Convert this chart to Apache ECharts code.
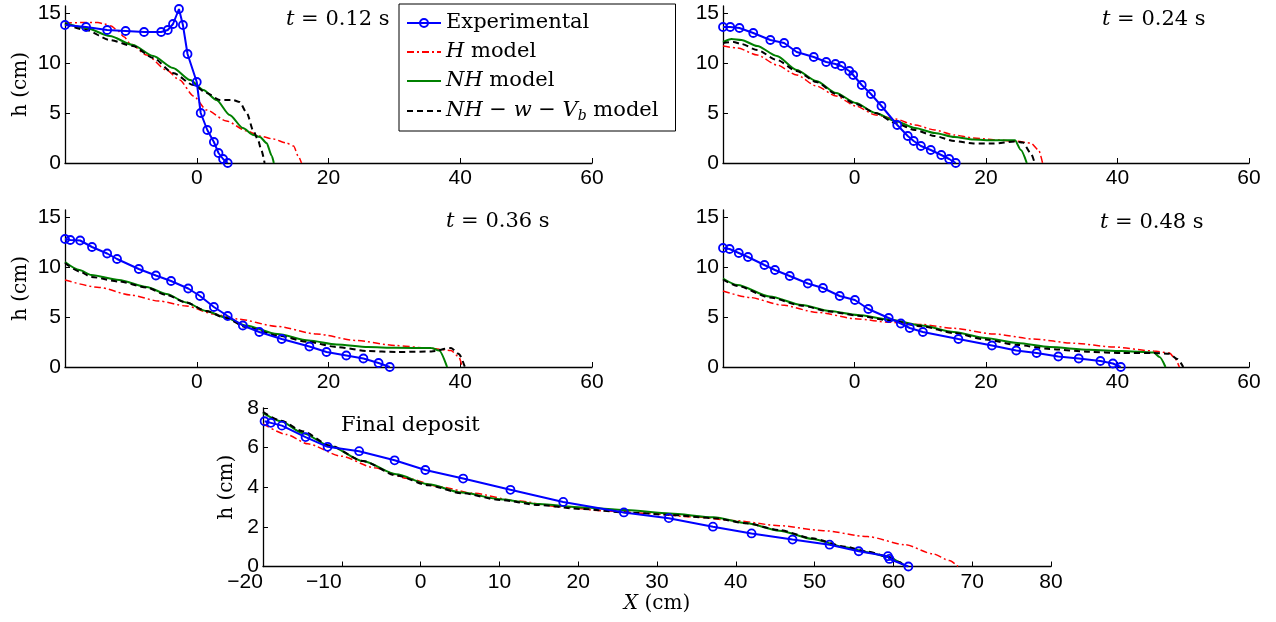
<!DOCTYPE html>
<html><head><meta charset="utf-8">
<script src="https://cdn.jsdelivr.net/npm/echarts@6/dist/echarts.min.js"></script>
<style>html,body{margin:0;padding:0;background:#fff}#c{width:1276px;height:622px}</style>
</head><body><div id="c"></div>
<script>
// ---------- DATA: [X (cm), h (cm)] ----------
// t = 0.12 s
const exp012 = [[-20,13.8],[-16.8,13.6],[-13.6,13.3],[-10.8,13.2],[-8.0,13.1],[-5.4,13.1],[-4.4,13.3],[-3.6,13.9],[-2.7,15.4],[-2.1,13.8],[-1.4,10.9],[0.0,8.1],[0.6,5.0],[1.6,3.3],[2.6,2.1],[3.3,1.0],[4.0,0.4],[4.7,0]];
const H012 = [[-20,14.0],[-17,14.05],[-15,14.05],[-14,13.9],[-13,13.7],[-12.1,13.3],[-11,12.6],[-10.2,12.0],[-7.6,10.8],[-4.6,9.3],[-2.6,8.3],[-0.5,6.7],[1.5,5.3],[4.5,4.2],[7.6,3.2],[9.6,2.7],[11.6,2.4],[13.6,2.0],[14.7,1.7],[15.4,0.7],[15.9,0]];
const NH012 = [[-20,14.0],[-16.8,13.5],[-13.2,12.7],[-9.7,11.8],[-6.6,10.7],[-3.6,9.5],[-1.0,8.3],[1.0,7.3],[3.0,6.3],[5.0,4.8],[7.0,3.5],[8.6,2.8],[9.6,2.6],[10.6,2.0],[11.4,0.7],[11.7,0]];
const NHw012 = [[-20,13.9],[-16.8,13.3],[-13.2,12.3],[-9.7,11.7],[-6.6,10.5],[-3.6,9.0],[-0.5,7.8],[1.5,7.0],[3.5,6.3],[5.5,6.3],[6.5,6.1],[7.6,5.0],[8.6,3.2],[9.3,2.3],[9.8,1.3],[10.3,0]];
// t = 0.24 s
const exp024 = [[-20,13.6],[-18.9,13.6],[-17.5,13.5],[-15.4,13.0],[-12.8,12.3],[-10.7,12.0],[-8.8,11.1],[-6.2,10.6],[-4.3,10.1],[-2.9,9.9],[-2.0,9.7],[-0.8,9.2],[-0.2,8.8],[1.1,7.8],[2.5,6.9],[4.1,5.7],[6.5,3.8],[8.1,2.7],[9.0,2.2],[10.1,1.7],[11.6,1.3],[13.2,0.8],[14.4,0.4],[15.4,0]];
const H024 = [[-20,11.7],[-17.8,11.5],[-14.8,10.8],[-11.8,9.8],[-8.8,8.8],[-5.8,7.7],[-2.8,6.7],[0.2,5.7],[3.2,4.8],[6.2,4.4],[9.2,3.8],[12.2,3.3],[15.2,2.8],[18.1,2.5],[21.1,2.33],[24.7,2.17],[26.8,2.0],[28.0,1.3],[28.6,0]];
const NH024 = [[-20,12.1],[-18.7,12.4],[-17.2,12.3],[-14.8,11.7],[-11.8,10.7],[-8.8,9.3],[-5.8,8.2],[-2.8,7.0],[0.2,6.0],[3.2,5.0],[6.2,4.2],[9.2,3.5],[12.2,3.0],[15.2,2.6],[18.1,2.35],[21.1,2.27],[24.4,2.27],[25.3,1.3],[26.2,0]];
const NHw024 = [[-20,12.0],[-18.4,12.1],[-17.2,11.9],[-14.8,11.3],[-11.8,10.3],[-8.8,9.2],[-5.8,8.1],[-2.8,6.9],[0.2,5.9],[3.2,5.0],[6.2,4.0],[9.2,3.3],[12.2,2.7],[15.2,2.2],[18.1,1.95],[21.1,1.95],[24.4,2.15],[25.6,2.05],[26.8,1.0],[27.4,0]];
// t = 0.36 s
const exp036 = [[-20,12.8],[-19.2,12.7],[-17.7,12.65],[-15.9,12.0],[-13.6,11.35],[-12.1,10.8],[-8.8,9.8],[-6.2,9.15],[-3.9,8.6],[-1.3,7.85],[0.5,7.1],[2.6,6.0],[4.7,5.1],[7.0,4.15],[9.5,3.5],[12.9,2.8],[17.1,2.05],[19.7,1.5],[22.7,1.15],[25.3,0.85],[27.6,0.4],[29.3,0]];
const H036 = [[-20,8.7],[-14.8,7.95],[-10.0,7.2],[-5.8,6.6],[-1.6,6.1],[2.6,5.3],[6.2,4.8],[12.2,4.05],[18.2,3.3],[24.2,2.65],[30.2,2.15],[35.0,1.9],[38.6,1.65],[39.8,1.0],[40.3,0]];
const NH036 = [[-20,10.5],[-17.8,9.7],[-16.0,9.2],[-11.8,8.7],[-7.6,8.0],[-4.6,7.3],[-1.6,6.45],[1.4,5.6],[4.4,4.95],[7.4,4.15],[12.2,3.3],[17.0,2.65],[21.2,2.25],[26.0,2.0],[30.2,1.92],[35.6,1.9],[36.8,1.65],[38.0,0]];
const NHw036 = [[-20,10.4],[-17.8,9.55],[-16.0,9.0],[-11.8,8.55],[-7.6,7.95],[-4.6,7.2],[-1.6,6.45],[1.4,5.6],[4.4,4.9],[7.4,4.0],[12.2,3.15],[17.0,2.5],[21.2,2.0],[26.0,1.6],[30.2,1.5],[35.6,1.55],[38.6,1.9],[39.8,1.3],[40.7,0]];
// t = 0.48 s
const exp048 = [[-20,11.9],[-19.0,11.8],[-17.6,11.4],[-16.2,11.0],[-13.7,10.2],[-12.1,9.7],[-9.85,9.1],[-7.1,8.35],[-4.8,7.9],[-2.25,7.1],[0.06,6.7],[2.1,5.8],[5.2,4.9],[7.05,4.35],[8.4,3.9],[10.4,3.5],[15.8,2.8],[20.9,2.15],[24.6,1.65],[27.7,1.4],[31.0,1.05],[34.1,0.85],[37.4,0.6],[39.3,0.35],[40.5,0]];
const H048 = [[-20,7.6],[-15.9,6.95],[-11.1,6.2],[-5.6,5.45],[0.5,4.8],[5.3,4.47],[10.2,4.25],[15.1,3.87],[21.2,3.3],[27.2,2.8],[33.3,2.38],[39.4,2.0],[45.5,1.6],[47.9,1.4],[48.8,0.8],[49.4,0]];
const NH048 = [[-20,8.85],[-17.8,8.2],[-12.9,7.05],[-8.0,6.2],[-3.8,5.6],[0.5,5.2],[5.3,4.75],[10.2,4.15],[15.1,3.5],[19.9,2.9],[24.8,2.4],[29.7,2.0],[35.7,1.72],[40.6,1.6],[45.5,1.46],[46.4,1.0],[47.3,0]];
const NHw048 = [[-20,8.75],[-17.8,8.1],[-12.9,6.95],[-8.0,6.13],[-3.8,5.55],[0.5,5.13],[5.3,4.65],[10.2,4.07],[15.1,3.4],[19.9,2.75],[24.8,2.2],[29.7,1.8],[35.7,1.52],[40.6,1.4],[45.5,1.39],[47.9,1.32],[49.1,0.8],[50.0,0]];
// Final deposit
const expFin = [[-19.8,7.33],[-19.0,7.25],[-17.6,7.11],[-14.6,6.53],[-11.8,6.04],[-7.8,5.82],[-3.3,5.36],[0.6,4.87],[5.4,4.44],[11.4,3.87],[18.1,3.26],[25.8,2.73],[31.5,2.44],[37.1,2.01],[42.0,1.67],[47.2,1.36],[51.9,1.1],[55.6,0.77],[59.3,0.52],[59.5,0.38],[61.9,0]];
const HFin = [[-20,7.2],[-17.0,6.66],[-14.3,6.19],[-10.1,5.57],[-5.9,4.99],[-1.7,4.45],[2.4,4.03],[6.6,3.7],[12.2,3.31],[17.7,3.01],[23.3,2.81],[28.9,2.68],[34.4,2.51],[40.0,2.31],[45.5,2.06],[51.1,1.81],[56.7,1.51],[61.5,1.1],[65.0,0.64],[67.1,0.3],[68.2,0]];
const NHFin = [[-20,7.75],[-17.7,7.33],[-15.0,6.74],[-11.5,6.08],[-7.3,5.32],[-3.1,4.65],[1.0,4.15],[5.2,3.73],[10.1,3.4],[15.0,3.15],[20.5,2.98],[26.1,2.85],[31.6,2.68],[37.2,2.48],[41.4,2.18],[45.5,1.81],[49.7,1.39],[53.9,0.97],[56.7,0.72],[59.5,0.47],[60.8,0.22],[61.5,0]];
const NHwFin = [[-20,7.8],[-17.7,7.36],[-15.0,6.83],[-11.5,6.11],[-7.3,5.32],[-3.1,4.6],[1.0,4.1],[5.2,3.7],[10.1,3.36],[15.0,3.1],[20.5,2.9],[26.1,2.73],[31.6,2.61],[37.2,2.44],[41.4,2.18],[45.5,1.84],[49.7,1.42],[53.9,1.0],[56.7,0.75],[59.5,0.47],[60.8,0.22],[61.4,0]];

const panelTitles = ['0.12', '0.24', '0.36', '0.48'];
const seriesNames = ['Experimental', 'H model', 'NH model', 'NH-w-Vb model'];
const xTicksTop = [0, 20, 40, 60];
const yTicksTop = [0, 5, 10, 15];
const panels = [
  [exp012, H012, NH012, NHw012],
  [exp024, H024, NH024, NHw024],
  [exp036, H036, NH036, NHw036],
  [exp048, H048, NH048, NHw048],
  [expFin, HFin, NHFin, NHwFin]
];

// ---------- CHART ----------
const SANS = '"Liberation Sans", Arial, sans-serif';
const SERIF = '"DejaVu Serif", serif';
const chart = echarts.init(document.getElementById('c'), null, {renderer: 'canvas'});

const grids = [
  {left: 65, top: 6, width: 527, height: 157},
  {left: 723, top: 6, width: 526, height: 157},
  {left: 65, top: 210, width: 527, height: 157},
  {left: 723, top: 210, width: 526, height: 157},
  {left: 263, top: 408, width: 788, height: 158.5}
];

function axisBase() {
  return {
    type: 'value',
    splitLine: {show: false},
    axisLine: {onZero: false, lineStyle: {color: '#000', width: 1.3}},
    axisTick: {inside: true, length: 5, lineStyle: {color: '#000', width: 1}}
  };
}
const labelCommon = {color: '#000', fontFamily: SANS, fontSize: 21};
const nameStyle = {color: '#000', fontFamily: SERIF, fontSize: 20,
  rich: {i: {fontStyle: 'italic', fontFamily: SERIF, fontSize: 20, color: '#000'}}};

const xAxes = [], yAxes = [];
for (let i = 0; i < 4; i++) {
  const x = axisBase();
  Object.assign(x, {gridIndex: i, min: -20, max: 60, interval: 20,
    axisLabel: Object.assign({}, labelCommon, {margin: 5, customValues: xTicksTop})});
  x.axisTick.customValues = xTicksTop;
  xAxes.push(x);
  const y = axisBase();
  Object.assign(y, {gridIndex: i, min: 0, max: 15.7, interval: 5,
    axisLabel: Object.assign({}, labelCommon, {margin: 4, customValues: yTicksTop})});
  y.axisTick.customValues = yTicksTop;
  if (i === 0 || i === 2) {
    y.name = 'h (cm)'; y.nameLocation = 'middle'; y.nameGap = 34; y.nameTextStyle = nameStyle;
  }
  yAxes.push(y);
}
const x5 = axisBase();
Object.assign(x5, {gridIndex: 4, min: -20, max: 80, interval: 10,
  name: '{i|X} (cm)', nameLocation: 'middle', nameGap: 27, nameTextStyle: nameStyle,
  axisLabel: Object.assign({}, labelCommon, {margin: 5,
    formatter: v => (v < 0 ? '{n|\u2212' + (-v) + '}' : String(v)),
    rich: {n: {fontFamily: SANS, fontSize: 21, color: '#000', padding: [0, 36, 0, 0]}}})});
xAxes.push(x5);
const y5 = axisBase();
Object.assign(y5, {gridIndex: 4, min: 0, max: 8, interval: 2,
  name: 'h (cm)', nameLocation: 'middle', nameGap: 23, nameTextStyle: nameStyle,
  axisLabel: Object.assign({}, labelCommon, {margin: 4})});
yAxes.push(y5);

const NONE = 'rgba(0,0,0,0)';
const styles = [
  {symbol: 'circle', symbolSize: 8, lineStyle: {color: '#0000ff', width: 2},
   itemStyle: {color: NONE, borderColor: '#0000ff', borderWidth: 1.8}, z: 5},
  {symbol: 'none', smooth: 0.25, smoothMonotone: 'x', lineStyle: {color: '#ff0000', width: 1.5, type: [7, 3, 2, 3]}, itemStyle: {color: NONE, borderColor: NONE}, z: 2},
  {symbol: 'none', smooth: 0.25, smoothMonotone: 'x', lineStyle: {color: '#008000', width: 2}, itemStyle: {color: NONE, borderColor: NONE}, z: 3},
  {symbol: 'none', smooth: 0.25, smoothMonotone: 'x', lineStyle: {color: '#000000', width: 2, type: [6, 4]}, itemStyle: {color: NONE, borderColor: NONE}, z: 4}
];

const series = [];
panels.forEach((p, i) => {
  p.forEach((data, k) => {
    series.push(Object.assign({type: 'line', name: seriesNames[k], data: data,
      xAxisIndex: i, yAxisIndex: i, animation: false}, JSON.parse(JSON.stringify(styles[k]))));
  });
});

const titleStyle = {fontFamily: SERIF, fontSize: 21, fontWeight: 'normal', color: '#000',
  rich: {i: {fontStyle: 'italic', fontFamily: SERIF, fontSize: 21, color: '#000'}}};
const titlePos = [[286, 9], [1102, 9], [446, 211], [1100, 212]];
const titles = panelTitles.map((t, i) => ({
  text: '{i|t} = ' + t + ' s', left: titlePos[i][0], top: titlePos[i][1], padding: 0, textStyle: titleStyle
}));
titles.push({text: 'Final deposit', left: 341, top: 415, padding: 0, textStyle: titleStyle});

const legendLabels = {
  'Experimental': 'Experimental',
  'H model': '{i|H} model',
  'NH model': '{i|NH} model',
  'NH-w-Vb model': '{i|NH} \u2212 {i|w} \u2212 {i|V}{sub|b} model'
};

chart.setOption({
  animation: false,
  backgroundColor: '#fff',
  title: titles,
  grid: grids,
  xAxis: xAxes,
  yAxis: yAxes,
  legend: {
    orient: 'vertical', left: 399, top: 4, padding: [8, 17, 8, 7],
    itemWidth: 34, itemHeight: 10, itemGap: 7,
    borderColor: '#000', borderWidth: 1, backgroundColor: '#fff',
    data: seriesNames,
    formatter: n => legendLabels[n],
    textStyle: {fontFamily: SERIF, fontSize: 21, color: '#000', lineHeight: 22,
      rich: {
        i: {fontStyle: 'italic', fontFamily: SERIF, fontSize: 21, color: '#000', lineHeight: 22},
        sub: {fontStyle: 'italic', fontFamily: SERIF, fontSize: 14, color: '#000', lineHeight: 22, padding: [10, 0, 0, 0]}
      }}
  },
  series: series
});
</script>
</body></html>
